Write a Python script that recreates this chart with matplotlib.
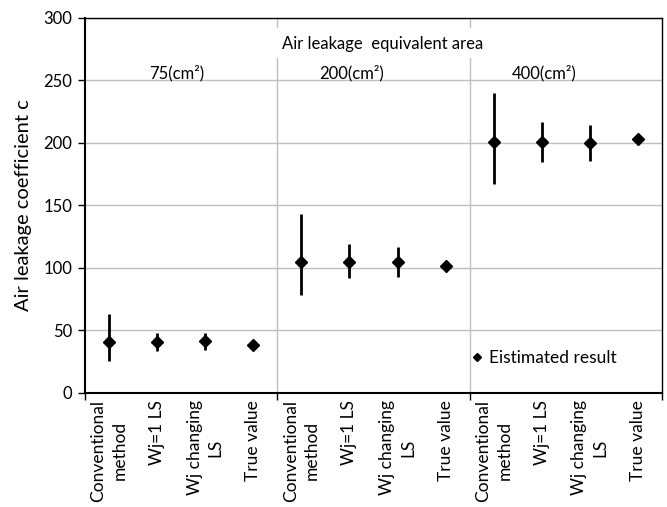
import matplotlib.pyplot as plt
import numpy as np

plt.rcParams["font.family"] = ["Lato", "DejaVu Sans"]

METHODS = ["Conventional\nmethod", "Wj=1 LS", "Wj changing\nLS", "True value"]
AREAS = ["75(cm²)", "200(cm²)", "400(cm²)"]

# estimated value, lower and upper end of the spread, per area group
est_75 = [40.5, 41.0, 41.5, 38.5]
low_75 = [25.5, 33.5, 34.0, 38.5]
high_75 = [63.0, 48.0, 48.0, 38.5]

est_200 = [105.0, 105.0, 104.5, 101.5]
low_200 = [78.0, 92.0, 92.5, 101.5]
high_200 = [143.0, 119.0, 117.0, 101.5]

est_400 = [200.5, 200.5, 200.0, 203.5]
low_400 = [167.0, 184.5, 185.5, 203.5]
high_400 = [240.0, 216.5, 214.5, 203.5]

est = np.array(est_75 + est_200 + est_400)
low = np.array(low_75 + low_200 + low_400)
high = np.array(high_75 + high_200 + high_400)
labels = METHODS * len(AREAS)

fig = plt.figure(figsize=(6.67, 5.07), dpi=100)
ax = fig.add_axes([0.1274, 0.2249, 0.8651, 0.7396])

x = np.arange(len(est)) + 0.5
ax.errorbar(x, est, yerr=[est - low, high - est], fmt="none",
            ecolor="black", elinewidth=2, capsize=0, zorder=3)
ax.plot(x, est, "D", color="black", markersize=6.5, zorder=4,
        label="Eistimated result")

ax.set_xlim(0, len(est))
ax.set_ylim(0, 300)
ax.set_yticks(np.arange(0, 301, 50))
ax.yaxis.grid(True, color="#bfbfbf", linewidth=1)
ax.set_axisbelow(True)
# group separators, broken where the header text sits
for b in (4, 8):
    ax.axvline(b, ymin=0, ymax=268 / 300, color="#bfbfbf", lw=1, zorder=1)
    ax.axvline(b, ymin=293 / 300, ymax=1, color="#bfbfbf", lw=1, zorder=1)

ax.set_xticks(x)
ax.set_xticklabels(labels, rotation=90, fontsize=12.5, ha="center", va="top",
                   multialignment="center", linespacing=1.4)
ax.tick_params(axis="x", length=0, pad=5)
ax.set_xticks([0, 4, 8, 12], minor=True)
ax.tick_params(axis="x", which="minor", length=5, width=1)
ax.tick_params(axis="y", labelsize=12, length=5, width=1, pad=4)

for side in ("left", "bottom"):
    ax.spines[side].set_linewidth(1.5)
for side in ("top", "right"):
    ax.spines[side].set_linewidth(1.0)

ax.set_ylabel("Air leakage coefficient c", fontsize=14.5, labelpad=8)

ax.text(6.2, 279, "Air leakage  equivalent area", ha="center", va="center",
        fontsize=12, zorder=2)
area_x = [1.9, 5.55, 9.55]
for ax_x, area in zip(area_x, AREAS):
    ax.text(ax_x, 249.5, area, ha="center", va="bottom", fontsize=12, zorder=2)

ax.legend(loc="center left", bbox_to_anchor=(0.672, 0.093), frameon=False,
          handlelength=0.5, handletextpad=0.45, fontsize=12.5, markerscale=0.7,
          borderaxespad=0, borderpad=0)

fig.savefig("out.png", dpi=100)
